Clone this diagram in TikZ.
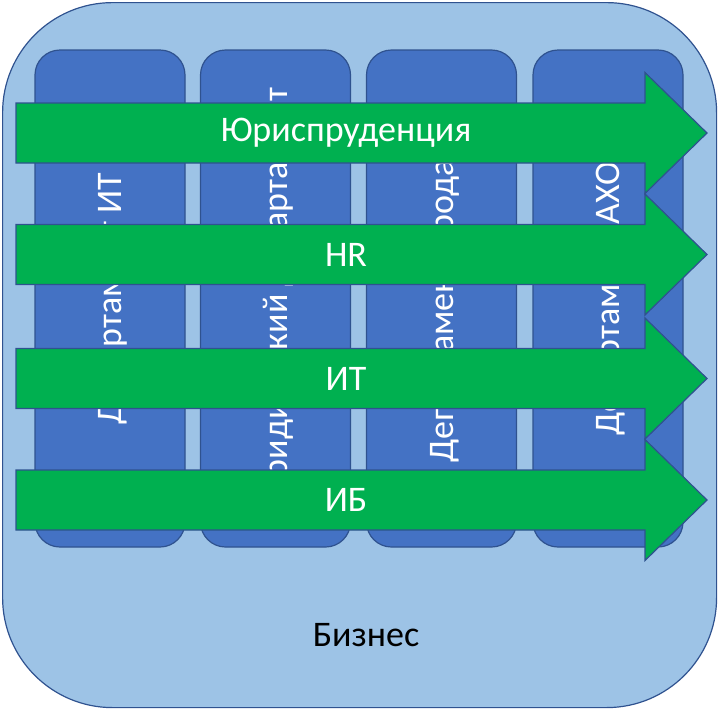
\documentclass[tikz,border=0pt]{standalone}
\usepackage{fontspec}
\setmainfont{Carlito}
\definecolor{edgeblue}{HTML}{2F528F}
\definecolor{bizfill}{HTML}{9DC3E6}
\definecolor{deptfill}{HTML}{4472C4}
\definecolor{flowfill}{HTML}{00B050}
\begin{document}
\begin{tikzpicture}[x=1pt, y=-1pt, line width=1.2pt]
        \tikzstyle{dept}=[rectangle, draw=edgeblue, fill=deptfill, rounded corners=25pt, rotate=90, minimum width=497pt, minimum height=150pt, inner sep=0pt, text depth=0pt, text=white, font=\fontsize{36}{40}\selectfont]
        \tikzstyle{flow}=[draw=edgeblue, fill=flowfill, line join=miter]
        \tikzstyle{flowlabel}=[text=white, font=\fontsize{36}{40}\selectfont]

        \useasboundingbox (0,0) rectangle (718,710);

        \node[draw=edgeblue, fill=bizfill, rounded corners=110pt, minimum width=714pt, minimum height=705pt, anchor=north west] (biz) at (2,2) {};
        \node[font=\fontsize{36}{40}\selectfont] (bizlabel) at (366,635) {Бизнес};

        \node[dept] (deptit) at (110,298.5) {Департамент ИТ};
        \node[dept] (deptlaw) at (275.5,298.5) {Юридический департамент};
        \node[dept] (deptsales) at (441.5,298.5) {Департамент продаж};
        \node[dept] (deptaho) at (608,298.5) {Департамент АХО};

        \foreach \c/\name/\txt in {133/law/Юриспруденция, 254.5/hr/HR, 378.5/it/ИТ, 500/ib/ИБ} {
            \draw[flow] (16,\c-30) -- (645,\c-30) -- (645,\c-60.5) -- (707,\c) -- (645,\c+60.5) -- (645,\c+30) -- (16,\c+30) -- cycle;
            \node[flowlabel] (flow\name) at (346,\c) {\txt};
        }
    \end{tikzpicture}
\end{document}
